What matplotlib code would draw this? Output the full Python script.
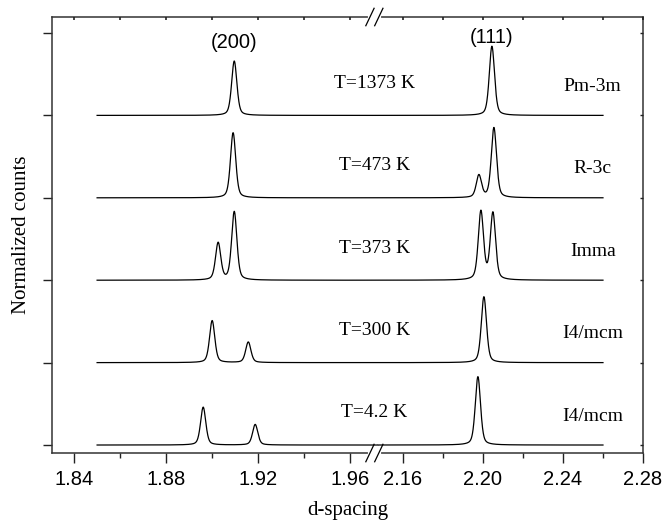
import numpy as np
import matplotlib
matplotlib.use('Agg')
import matplotlib.pyplot as plt

plt.rcParams['font.family'] = ['Liberation Serif', 'DejaVu Serif']

# 温度从下往上排，每条谱的峰：位置、高度
temps = ['T=4.2 K', 'T=300 K', 'T=373 K', 'T=473 K', 'T=1373 K']
phases = ['I4/mcm', 'I4/mcm', 'Imma', 'R-3c', 'Pm-3m']
peak_pos = [
    [1.8961, 1.9187, 2.1975],
    [1.9000, 1.9157, 2.2005],
    [1.9026, 1.9096, 2.1990, 2.2050],
    [1.9091, 2.1980, 2.2055],
    [1.9096, 2.2045],
]
peak_h = [
    [0.46, 0.25, 0.83],
    [0.51, 0.25, 0.80],
    [0.45, 0.83, 0.83, 0.81],
    [0.79, 0.27, 0.85],
    [0.66, 0.84],
]
hkl = ['(200)', '(111)']
hkl_pos = [1.9093, 2.2043]
hkl_y = [4.88, 4.94]

major_ticks = [1.84, 1.88, 1.92, 1.96, 2.16, 2.20, 2.24, 2.28]
minor_ticks = [1.86, 1.90, 1.94, 2.18, 2.22, 2.26]

# 断轴：左边1.84-1.972，右边2.1475-2.28，右边压缩一点
B1, B2 = 1.972, 2.1475
R = 2000 / 2300
EPS = 1e-6


def fwd(d):
    d = np.asarray(d, dtype=float)
    return np.where(d <= B1, d,
                    np.where(d >= B2, B1 + EPS + (d - B2) * R,
                             B1 + (d - B1) * EPS / (B2 - B1)))


def inv(u):
    u = np.asarray(u, dtype=float)
    return np.where(u <= B1, u,
                    np.where(u >= B1 + EPS, B2 + (u - B1 - EPS) / R,
                             B1 + (u - B1) * (B2 - B1) / EPS))


def pv(x, x0, h, w, eta=0.4):
    # 伪Voigt峰形
    g = np.exp(-4 * np.log(2) * (x - x0) ** 2 / w ** 2)
    l = 1 / (1 + 4 * (x - x0) ** 2 / w ** 2)
    return h * (eta * l + (1 - eta) * g)


x = np.concatenate([np.linspace(1.85, B1, 1500), np.linspace(B2, 2.26, 1500)])

fig = plt.figure(figsize=(6.65, 5.2), dpi=100)
ax = fig.add_axes([0.0782, 0.1288, 0.8887, 0.8385])
ax.set_xscale('function', functions=(fwd, inv))

for k in range(len(temps)):
    y = np.zeros_like(x) + k
    for p, h in zip(peak_pos[k], peak_h[k]):
        w = 0.0027 if p < 2 else 0.0031
        y += pv(x, p, h, w)
    ax.plot(x, y, color='black', lw=0.9)
    ax.text(0.545, k + 0.39, temps[k], transform=ax.get_yaxis_transform(),
            ha='center', va='center', fontsize=14)
    ax.text(0.915, k + 0.35, phases[k], transform=ax.get_yaxis_transform(),
            ha='center', va='center', fontsize=14)

for lab, p, yy in zip(hkl, hkl_pos, hkl_y):
    ax.text(p, yy, lab, ha='center', va='center', fontsize=14.5,
            family='Liberation Sans')

ax.set_xlim(1.8304, 2.28)
ax.set_ylim(-0.097, 5.194)
ax.set_xticks(major_ticks)
ax.set_xticklabels(['%.2f' % t for t in major_ticks], family='Liberation Sans', fontsize=14.5)
ax.set_xticks(minor_ticks, minor=True)
ax.set_yticks(range(6))
ax.set_yticklabels([])
ax.tick_params(axis='x', which='major', direction='out', length=7, width=1, color='#222', pad=5)
ax.tick_params(axis='x', which='minor', direction='out', length=3.5, width=1, color='#222')
ax.tick_params(axis='y', direction='out', length=6.5, width=1, color='#222')
for s in ax.spines.values():
    s.set_linewidth(1.1)
    s.set_color('#333')
ax.set_xlabel('d-spacing', fontsize=15, labelpad=9)
ax.set_ylabel('Normalized counts', fontsize=15, labelpad=5)

# 顶部的小刻度，朝里
ax2 = ax.twiny()
ax2.set_xscale('function', functions=(fwd, inv))
ax2.set_xlim(ax.get_xlim())
ax2.set_xticks(major_ticks + minor_ticks)
ax2.set_xticklabels([])
ax2.tick_params(axis='x', direction='in', length=2.5, width=1.2, color='#222')
for s in ax2.spines.values():
    s.set_visible(False)

# 右边也是朝里的小刻度
ax3 = ax.twinx()
ax3.set_ylim(ax.get_ylim())
ax3.set_yticks(range(6))
ax3.set_yticklabels([])
ax3.tick_params(axis='y', direction='in', length=2.5, width=1.0, color='#222')
for s in ax3.spines.values():
    s.set_visible(False)

# 断轴的双斜线
bx = [0.538, 0.553]
for yb in [0.0, 1.0]:
    ax.plot([bx[0], bx[1]], [yb, yb], transform=ax.transAxes, color='white',
            lw=3, clip_on=False, zorder=5)
    for xb in bx:
        ax.plot([xb - 0.007, xb + 0.007], [yb - 0.02, yb + 0.02], transform=ax.transAxes,
                color='black', lw=0.9, clip_on=False, zorder=6)

fig.savefig('out.png', dpi=100)
